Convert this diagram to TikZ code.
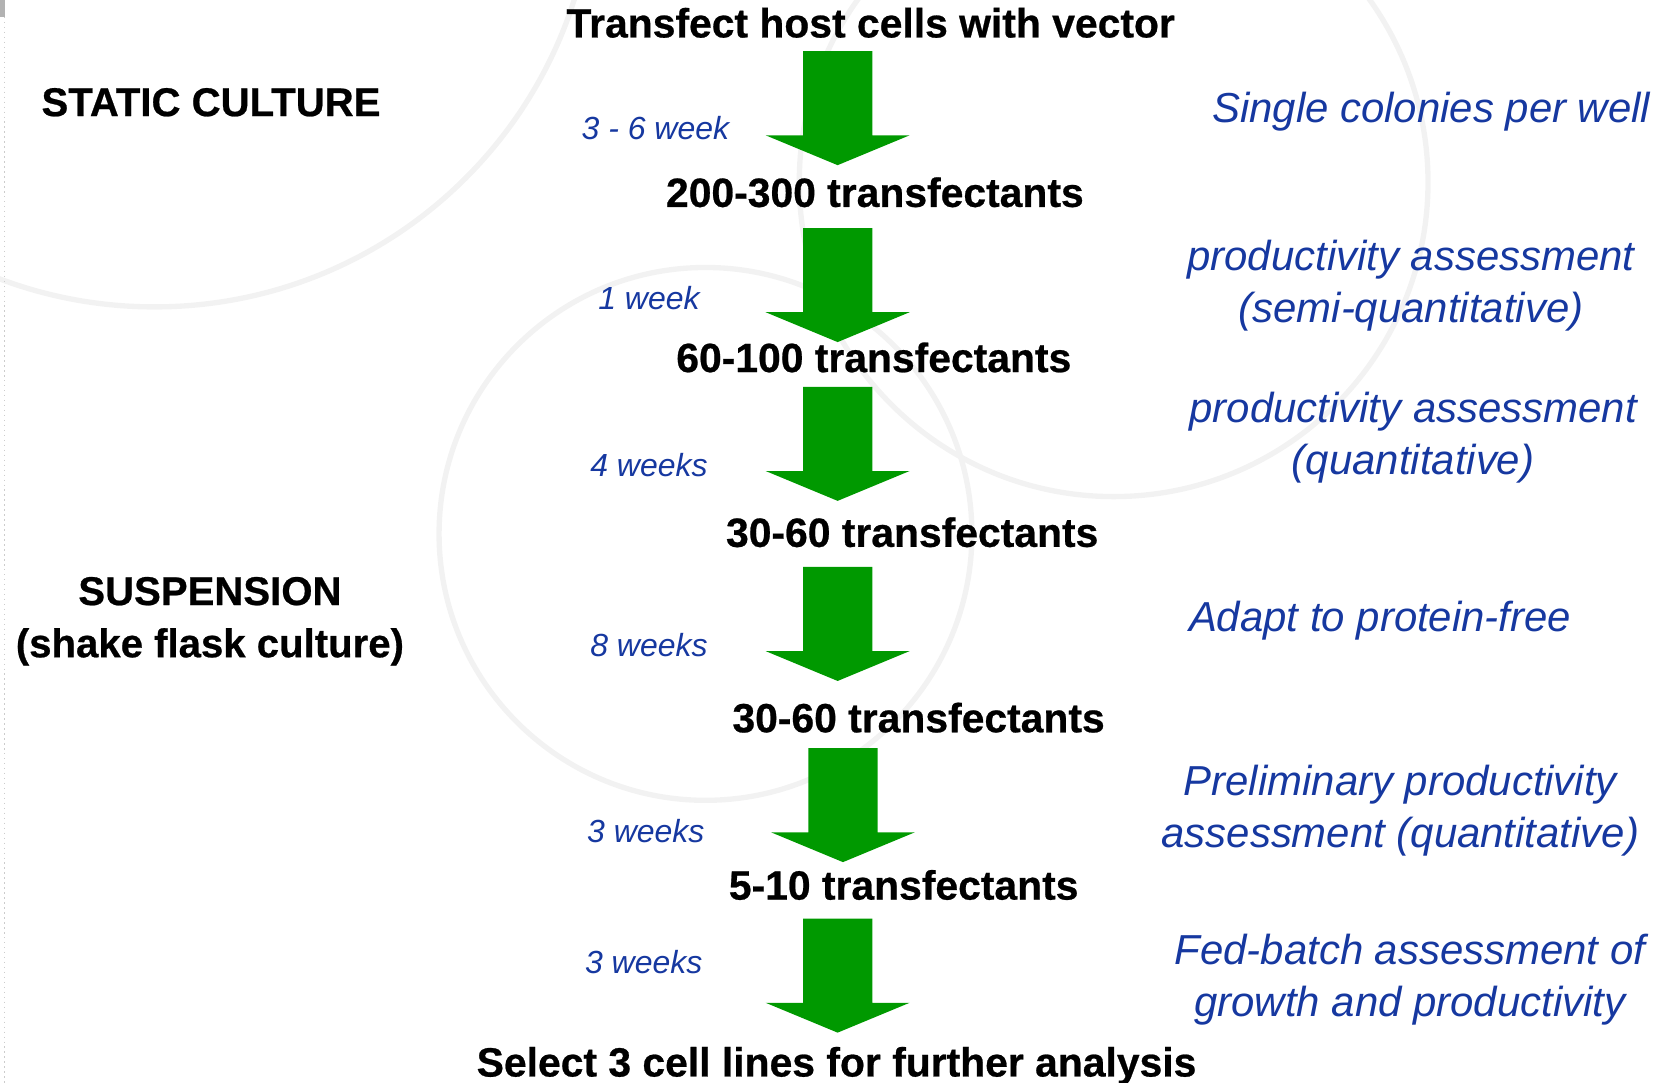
\documentclass[tikz,border=0pt]{standalone}
\usepackage{fontspec}
\setmainfont{Liberation Sans}[BoldFeatures={FakeBold=0.6}]
\usepackage{xcolor}
\definecolor{stepgreen}{RGB}{0,153,0}
\definecolor{noteblue}{RGB}{22,56,160}
\definecolor{ringgray}{RGB}{242,242,242}

\begin{document}
\begin{tikzpicture}[x=0.3pt,y=-0.3pt,
  stepnode/.style={inner sep=0pt, font=\bfseries\fontsize{11.5}{14}\selectfont, text height=1.38ex, text depth=0pt},
  phasenode/.style={inner sep=0pt, align=center, font=\bfseries\fontsize{11.3}{14.7}\selectfont},
  timenode/.style={inner sep=0pt, text=noteblue, font=\itshape\fontsize{9}{10}\selectfont, text height=1.38ex, text depth=0pt},
  notenode/.style={inner sep=0pt, align=center, text=noteblue, font=\itshape\fontsize{11.8}{14.7}\selectfont},
  steparrow/.style={fill=stepgreen, draw=none},
  ring/.style={draw=ringgray, line width=1.5pt}]
\useasboundingbox (0,0) rectangle (1568,1016);

%background rings
\draw[ring] (145,-125) circle (413);
\draw[ring] (1045,171) circle (295);
\draw[ring] (662,501) circle (250);
\fill[gray!60] (0,0) rectangle (5,16);
\draw[gray!40, densely dotted] (4,16) -- (4,1016);

%steps
\node[stepnode] (t0) at (817,23)  {Transfect host cells with vector};
\node[stepnode] (t1) at (821,182) {200-300 transfectants};
\node[stepnode] (t2) at (820,337) {60-100 transfectants};
\node[stepnode] (t3) at (856,501) {30-60 transfectants};
\node[stepnode] (t4) at (862,675) {30-60 transfectants};
\node[stepnode] (t5) at (848,832) {5-10 transfectants};
\node[stepnode] (t6) at (785,998) {Select 3 cell lines for further analysis};

%arrows
\foreach \ax/\ay in {786/48, 786/214, 786/363, 786/532, 791/702, 786/862}
  \fill[steparrow] (\ax-32.5,\ay) -- (\ax+32.5,\ay) -- (\ax+32.5,\ay+79) -- (\ax+67.5,\ay+79)
    -- (\ax,\ay+107) -- (\ax-67.5,\ay+79) -- (\ax-32.5,\ay+79) -- cycle;

%times
\node[timenode] (w1) at (615,119) {3 - 6 week};
\node[timenode] (w2) at (609,278) {1 week};
\node[timenode] (w3) at (609,435) {4 weeks};
\node[timenode] (w4) at (609,604) {8 weeks};
\node[timenode] (w5) at (606,778) {3 weeks};
\node[timenode] (w6) at (604,901) {3 weeks};

%notes
\node[notenode] (n1) at (1343,105) {Single colonies per well};
\node[notenode] (n2) at (1324,268) {productivity assessment\\(semi-quantitative)};
\node[notenode] (n3) at (1326,411) {productivity assessment\\(quantitative)};
\node[notenode] (n4) at (1295,582) {Adapt to protein-free};
\node[notenode] (n5) at (1314,761) {Preliminary productivity\\assessment (quantitative)};
\node[notenode] (n6) at (1323,919) {Fed-batch assessment of\\growth and productivity};

%phases
\node[phasenode] (p1) at (198,96)  {STATIC CULTURE};
\node[phasenode] (p2) at (197,583) {SUSPENSION\\(shake flask culture)};

\end{tikzpicture}
\end{document}
